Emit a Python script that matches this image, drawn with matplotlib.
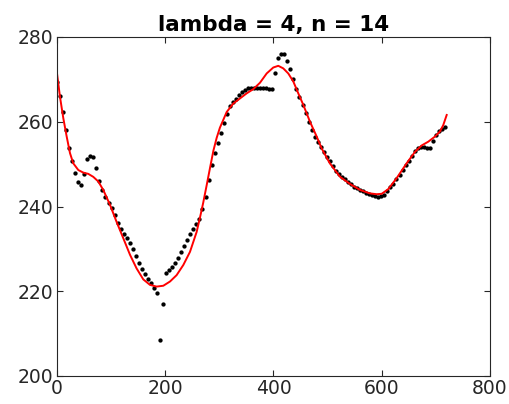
import numpy as np
import matplotlib
matplotlib.use("Agg")
import matplotlib.pyplot as plt

# sample grid of the measured points
x_step = 5.6
y_points = [
    269.3, 266.1, 262.3, 258.0, 253.9, 250.7, 247.9, 245.8, 245.0, 247.7,
    251.1, 252.0, 251.7, 249.2, 246.0, 243.8, 242.2, 240.8, 239.6, 237.9,
    236.2, 234.6, 233.4, 232.5, 231.3, 230.0, 228.3, 226.7, 225.2, 224.0,
    222.9, 221.9, 220.8, 219.7, 208.5, 217.1, 224.4, 225.0, 225.7, 226.6,
    227.8, 229.2, 230.6, 232.1, 233.5, 234.8, 235.9, 237.0, 239.4, 242.3,
    246.2, 249.8, 252.6, 255.1, 257.4, 259.8, 261.8, 263.6, 264.6, 265.4,
    266.3, 267.0, 267.6, 267.9, 268.0, 268.0, 268.0, 268.0, 268.0, 267.9,
    267.7, 267.8, 271.5, 275.1, 276.1, 276.1, 274.4, 272.4, 270.0, 267.7,
    265.9, 264.0, 262.0, 259.9, 258.0, 256.5, 255.2, 254.0, 252.8, 251.7,
    250.7, 249.5, 248.4, 247.6, 247.0, 246.4, 245.7, 245.2, 244.7, 244.3,
    244.0, 243.7, 243.3, 243.0, 242.8, 242.5, 242.3, 242.4, 242.8, 243.6,
    244.5, 245.4, 246.5, 247.5, 248.7, 249.8, 250.8, 251.9, 253.0, 253.8,
    254.1, 254.0, 253.8, 253.8, 255.5, 256.8, 257.8, 258.4, 258.7,
]
x_points = np.arange(len(y_points)) * x_step

# smoothed fit (red curve)
x_fit = [0, 5.5, 11.7, 17.9, 24, 30, 39.4, 48.6, 57.8, 67, 76.3, 85.5, 97.9,
         110, 122.5, 134.9, 147, 159.4, 171.8, 184, 196.4, 208.8, 221, 233.4,
         245.7, 258, 264, 270, 276.5, 283, 289, 295, 301, 313.5, 325.7, 338,
         350.4, 362.7, 375, 387.4, 399.6, 408.8, 418, 427.3, 436.6, 445.8, 455,
         467.4, 479.8, 489, 504, 523, 541.5, 560, 578, 590.6, 600, 612, 627.6,
         646, 661.4, 673.7, 686, 698.3, 707.5, 713.6, 720]
y_fit = [271.4, 265.9, 260.8, 256.5, 252.6, 250.2, 248.6, 248.0, 247.7, 247.0,
         245.9, 243.9, 240.4, 236.4, 232.5, 228.6, 225.4, 222.8, 221.5, 221.1,
         221.3, 222.3, 223.8, 226.2, 229.3, 234.0, 237.3, 240.8, 245.0, 249.3,
         253.2, 256.2, 258.6, 262.3, 264.3, 265.5, 266.7, 267.7, 269.2, 271.4,
         272.8, 273.2, 272.6, 271.4, 269.5, 266.7, 264.0, 260.0, 256.5, 253.7,
         250.2, 247.0, 245.3, 243.9, 243.1, 242.9, 243.0, 244.1, 246.7, 250.2,
         252.9, 254.4, 255.3, 256.5, 257.7, 259.2, 261.6]

dark = "#262626"

fig = plt.figure(figsize=(5.1, 4.04), dpi=100)
ax = fig.add_axes([57 / 510, 28 / 404, 433 / 510, 339 / 404])

ax.plot(x_points, y_points, "o", color="black", markersize=3.1, markeredgewidth=0)
ax.plot(x_fit, y_fit, color="red", linewidth=1.4)

ax.set_xlim(0, 800)
ax.set_ylim(200, 280)
ax.set_xticks([0, 200, 400, 600, 800])
ax.set_yticks([200, 220, 240, 260, 280])
ax.tick_params(direction="in", top=True, right=True, length=4, width=0.8,
               colors=dark, labelsize=13.5, pad=2.5)
for s in ax.spines.values():
    s.set_color(dark)
    s.set_linewidth(0.8)
ax.set_title("lambda = 4, n = 14", fontsize=15.5, fontweight="bold", color="black", pad=4)

plt.savefig("out.png", dpi=100)
